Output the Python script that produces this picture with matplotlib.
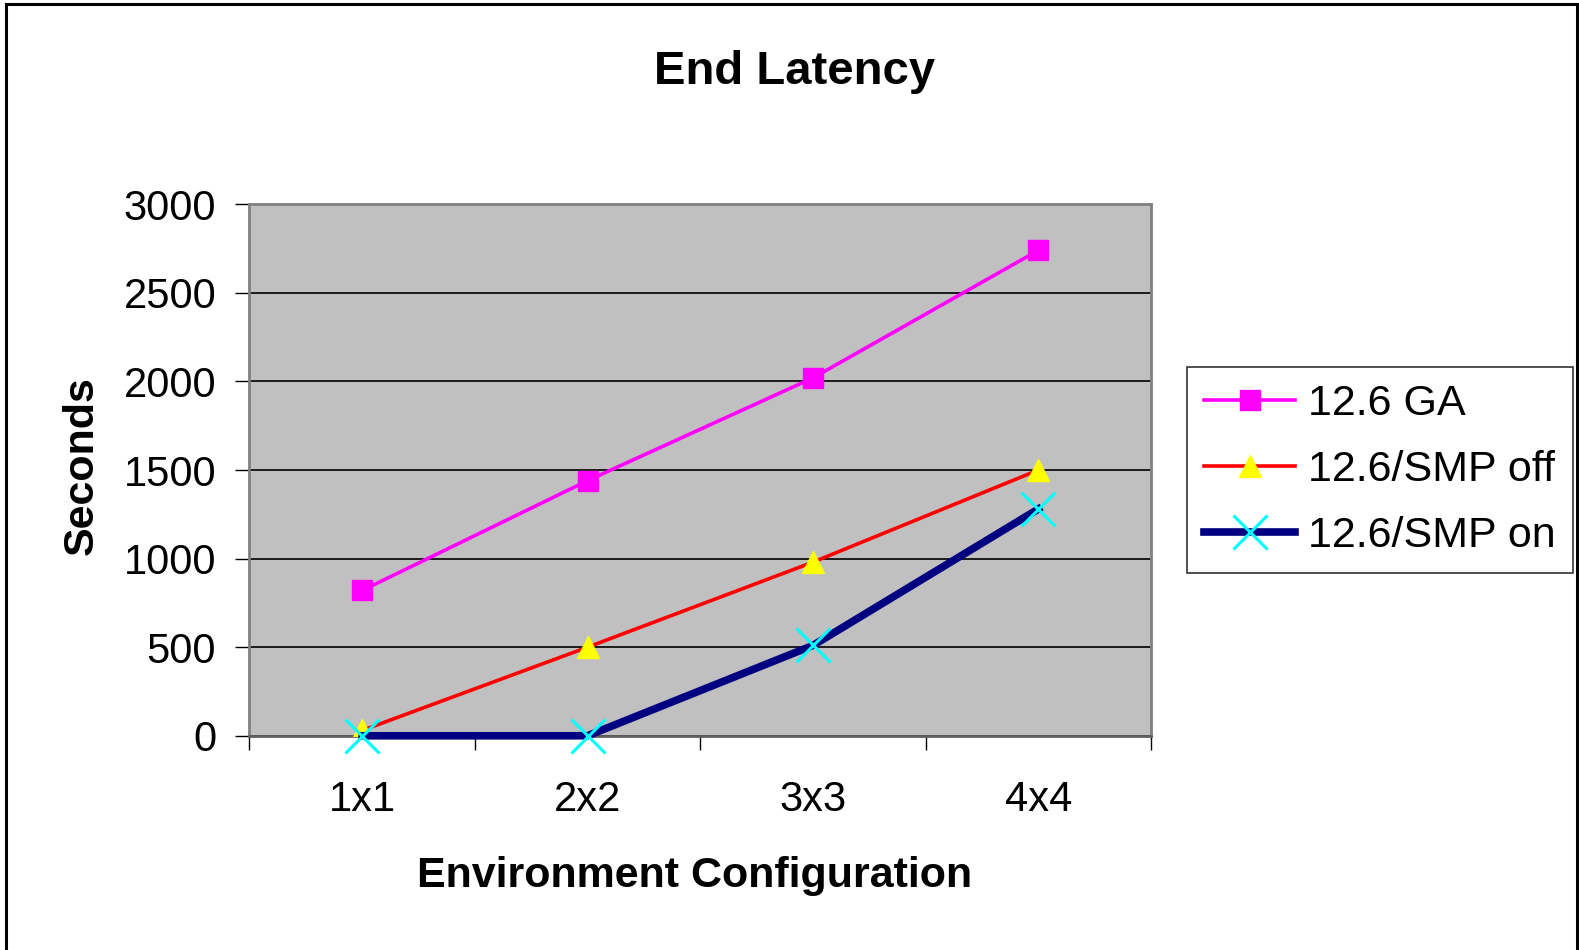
import numpy as np
import matplotlib
matplotlib.use("Agg")
import matplotlib.pyplot as plt
from matplotlib.patches import Rectangle

plt.rcParams['font.family'] = ['Liberation Sans', 'DejaVu Sans']

# Data
configs = ['1x1', '2x2', '3x3', '4x4']
ga = [820, 1440, 2020, 2740]
smp_off = [30, 500, 980, 1500]
smp_on = [0, 0, 510, 1280]

fig = plt.figure(figsize=(15.79, 9.5), dpi=100)
ax = fig.add_axes([0.158, 0.2255, 0.571, 0.5595])

x = np.arange(len(configs))
ax.plot(x, ga, '-', color='#FF00FF', lw=2.6, marker='s', ms=14,
        mfc='#FF00FF', mec='#FF00FF', label='12.6 GA', zorder=3)
ax.plot(x, smp_off, '-', color='#FF0000', lw=2.6, marker='^', ms=16,
        mfc='#FFFF00', mec='#FFFF00', label='12.6/SMP off', zorder=4)
ax.plot(x, smp_on, '-', color='#000080', lw=5.5, marker='x', ms=25,
        mec='#00FFFF', mew=2.2, label='12.6/SMP on', zorder=5, clip_on=False)

ax.set_xlim(-0.5, 3.5)
ax.set_ylim(0, 3000)
ax.set_facecolor('#C0C0C0')
ax.set_yticks(np.arange(0, 3001, 500))
ax.yaxis.grid(True, color='black', lw=1.2)
ax.set_axisbelow(True)

# category ticks sit between the groups, labels centered
ax.set_xticks(np.arange(-0.5, 4, 1))
ax.set_xticklabels([])
ax.set_xticks(x, minor=True)
ax.set_xticklabels(configs, minor=True, fontsize=30)
ax.tick_params(axis='x', which='minor', length=0, pad=32)
ax.tick_params(axis='x', which='major', length=10, width=1, direction='out')
ax.tick_params(axis='y', length=10, width=1, direction='out', labelsize=30, pad=14)

for s in ['top', 'right', 'left']:
    ax.spines[s].set_color('#808080')
    ax.spines[s].set_linewidth(2)
ax.spines['bottom'].set_color('#606060')
ax.spines['bottom'].set_linewidth(2)

fig.text(0.503, 0.924, 'End Latency', ha='center', va='center',
         fontsize=34, fontweight='bold')
fig.text(0.052, 0.51, 'Seconds', ha='center', va='center', rotation=90,
         fontsize=31, fontweight='bold')
fig.text(0.44, 0.078, 'Environment Configuration', ha='center', va='center',
         fontsize=31, fontweight='bold')

leg = ax.legend(loc='center left', bbox_to_anchor=(1.04, 0.5), fontsize=31,
                frameon=True, fancybox=False, edgecolor='black',
                handlelength=2.1, handletextpad=0.3, borderpad=0.4,
                labelspacing=0.6, borderaxespad=0)
leg.get_frame().set_linewidth(1.2)

# outer chart border
fig.patches.append(Rectangle((0.0035, -0.05), 0.9955, 1.0458, transform=fig.transFigure,
                             fill=False, edgecolor='black', lw=2.2))

fig.savefig('out.png', dpi=100, facecolor='white')
